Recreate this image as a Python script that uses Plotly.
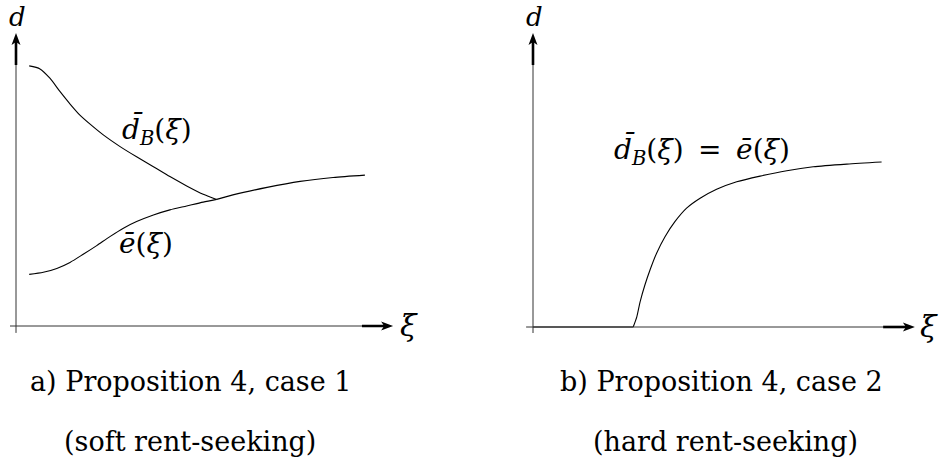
import plotly.graph_objects as go

# Panel a) Proposition 4, case 1 -- soft rent-seeking
# upper branch d_B(xi), lower branch e(xi), joined branch after they meet
dB_xi = [0.44, 0.80, 1.13, 1.47, 1.81, 2.13, 2.48, 2.91, 3.47, 4.02, 4.58, 5.13, 5.69, 6.24, 6.69]
dB_d = [8.67, 8.57, 8.26, 7.81, 7.39, 7.03, 6.72, 6.37, 5.98, 5.64, 5.31, 4.98, 4.67, 4.39, 4.22]
e_xi = [0.44, 0.91, 1.36, 1.80, 2.24, 2.69, 3.13, 3.58, 4.02, 4.58, 5.13, 5.69, 6.24, 6.69]
e_d = [1.72, 1.79, 1.92, 2.12, 2.39, 2.68, 2.98, 3.26, 3.48, 3.70, 3.87, 4.00, 4.13, 4.22]
joint_xi = [6.69, 7.23, 8.37, 9.47, 10.57, 11.63]
joint_d = [4.22, 4.37, 4.62, 4.82, 4.95, 5.03]

# Panel b) Proposition 4, case 2 -- hard rent-seeking
flat_xi = [0.0, 3.34]
flat_d = [0.0, 0.0]
hard_xi = [3.34, 3.46, 3.57, 3.73, 3.90, 4.12, 4.40, 4.73, 5.12, 5.57, 6.12,
           6.79, 7.57, 8.46, 9.34, 10.46, 11.62]
hard_d = [0.0, 0.34, 0.84, 1.40, 1.90, 2.46, 3.01, 3.51, 3.96, 4.29, 4.59,
          4.84, 5.03, 5.21, 5.34, 5.43, 5.50]

W, H = 939, 463
PX = 30.0  # pixels per data unit on both axes
SERIF = "DejaVu Serif"
LINE = dict(color="black", width=1.1)

fig = go.Figure()
for xs, ys, ax in [(dB_xi, dB_d, "a"), (e_xi, e_d, "a"), (joint_xi, joint_d, "a"),
                   (flat_xi, flat_d, "b"), (hard_xi, hard_d, "b")]:
    fig.add_trace(go.Scatter(
        x=xs, y=ys, mode="lines", line=dict(shape="spline", smoothing=0.7, **LINE),
        xaxis="x" if ax == "a" else "x2", yaxis="y" if ax == "a" else "y2",
        hoverinfo="skip", showlegend=False))

shapes, annotations = [], []


def draw_axes(xr, yr, x_end, y_end, x_thick, y_thick, x_min, y_min):
    thin = dict(color="#333", width=1)
    heavy = dict(color="black", width=2.6)
    shapes.append(dict(type="line", xref=xr, yref=yr, x0=x_min, x1=x_thick, y0=0, y1=0, line=thin))
    shapes.append(dict(type="line", xref=xr, yref=yr, x0=0, x1=0, y0=y_min, y1=y_thick, line=thin))
    # heavy shafts
    hl, hw = 12 / PX, 4.5 / PX
    shapes.append(dict(type="line", xref=xr, yref=yr, x0=x_thick, x1=x_end - hl * 0.6,
                       y0=0, y1=0, line=heavy))
    shapes.append(dict(type="line", xref=xr, yref=yr, x0=0, x1=0, y0=y_thick,
                       y1=y_end - hl * 0.6, line=heavy))
    # arrow heads
    shapes.append(dict(type="path", xref=xr, yref=yr, fillcolor="black", line=dict(width=0),
                       path=f"M{x_end},0 L{x_end - hl},{hw} L{x_end - hl * 0.75},0 "
                            f"L{x_end - hl},{-hw} Z"))
    shapes.append(dict(type="path", xref=xr, yref=yr, fillcolor="black", line=dict(width=0),
                       path=f"M0,{y_end} L{hw},{y_end - hl} L0,{y_end - hl * 0.75} "
                            f"L{-hw},{y_end - hl} Z"))


draw_axes("x", "y", 12.57, 9.77, 11.53, 8.70, -0.2, -0.23)
draw_axes("x2", "y2", 12.73, 9.80, 11.67, 8.73, -0.23, -0.2)


def label(px, py, text, size):
    annotations.append(dict(xref="paper", yref="paper", x=px / W, y=1 - py / H,
                            xanchor="center", yanchor="middle", text=text,
                            showarrow=False, font=dict(family=SERIF, size=size, color="black")))


# axis names
label(17, 17, "<i>d</i>", 26)
label(534, 17, "<i>d</i>", 26)
label(409, 325, "<i>ξ</i>", 30)
label(929, 326, "<i>ξ</i>", 30)

# curve names
label(157, 130, "<i>d\u0304</i><sub><i>B</i></sub>(<i>ξ</i>)", 28)
label(146, 243, "<i>e\u0304</i>(<i>ξ</i>)", 28)
label(702, 150, "<i>d\u0304</i><sub><i>B</i></sub>(<i>ξ</i>) \u2009=\u2009 <i>e\u0304</i>(<i>ξ</i>)", 28)

# captions
label(190, 381, "a) Proposition 4, case 1", 27)
label(190, 441, "(soft rent-seeking)", 27)
label(721, 381, "b) Proposition 4, case 2", 27)
label(725, 441, "(hard rent-seeking)", 27)

hidden = dict(visible=False, fixedrange=True)
fig.update_layout(
    width=W, height=H, margin=dict(l=0, r=0, t=0, b=0),
    paper_bgcolor="white", plot_bgcolor="white",
    xaxis=dict(domain=[0, 0.5], range=[-16 / PX, 453.5 / PX], **hidden),
    yaxis=dict(domain=[0, 1], range=[-137 / PX, 326 / PX], **hidden),
    xaxis2=dict(domain=[0.5, 1], range=[-63.5 / PX, 406 / PX], **hidden),
    yaxis2=dict(domain=[0, 1], range=[-136 / PX, 327 / PX], anchor="x2", **hidden),
    shapes=shapes, annotations=annotations,
)

fig.write_html("out.html")
